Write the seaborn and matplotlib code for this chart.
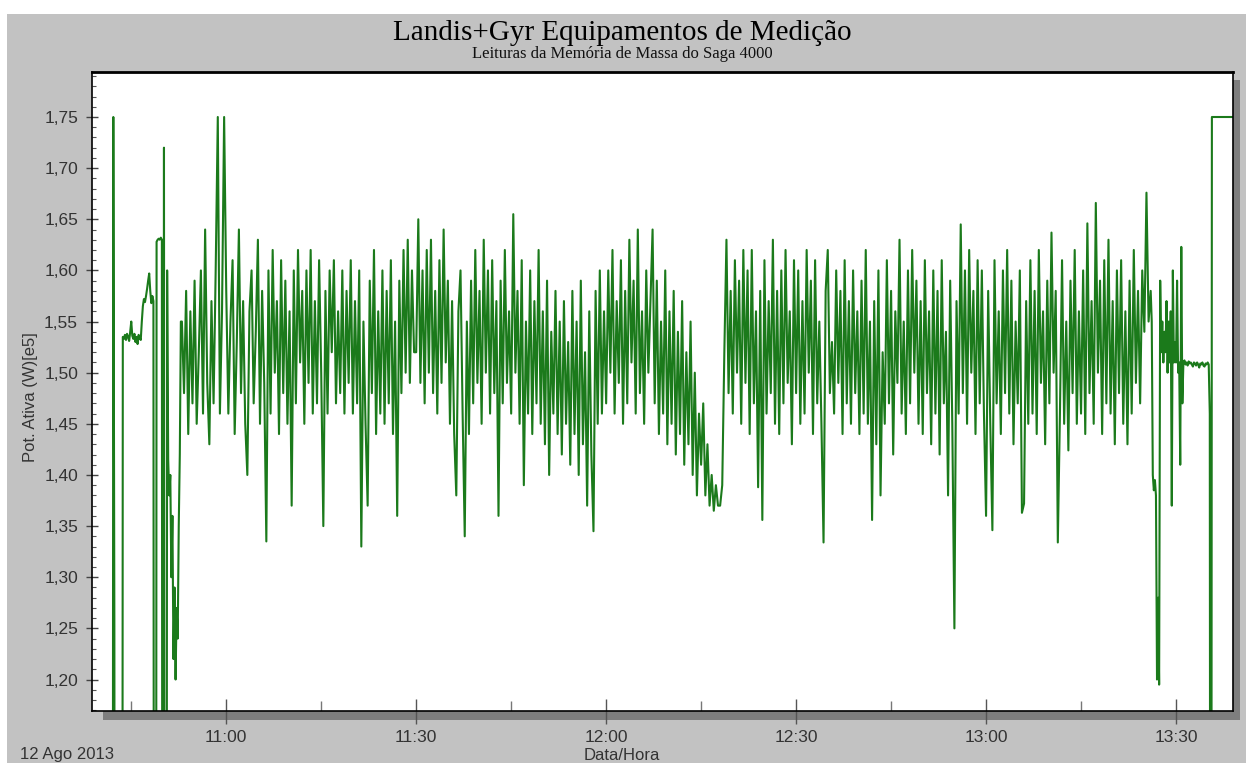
import pandas as pd
import numpy as np
import matplotlib
matplotlib.use('Agg')
import matplotlib.pyplot as plt
import matplotlib.dates as mdates
from matplotlib.patches import Rectangle
from matplotlib.ticker import MultipleLocator, FuncFormatter
import seaborn as sns

# leituras de 10 s no arranque do medidor (a partir de 10:42:00)
startup_vals = [
    0.0, 1.75, 1.25, 0.0, 0.0, 0.0, 0.0, 0.0, 0.0, 0.0,
    1.535, 1.533, 1.537, 1.532, 1.538, 1.535, 1.531, 1.540, 1.550, 1.536,
    1.533, 1.538, 1.530, 1.535, 1.528, 1.537, 1.534, 1.532, 1.550, 1.565,
    1.572, 1.569, 1.575, 1.582, 1.590, 1.597, 1.580, 1.568, 1.575, 1.570,
    0.0, 0.0, 1.628, 1.630, 1.631, 1.630, 1.632, 1.630, 0.0, 1.72,
    0.0, 0.0, 1.60, 1.415, 1.38, 1.40, 1.30, 1.36, 1.22, 1.29,
    1.20, 1.27, 1.24, 1.35, 1.42, 1.55,
]

# leituras de 20 s, regime normal
band_1053 = [
    1.55, 1.48, 1.58, 1.44, 1.56, 1.47, 1.59, 1.45, 1.52, 1.60,
    1.46, 1.64, 1.49, 1.43, 1.57, 1.47, 1.60, 1.75, 1.46, 1.56, 1.75,
]
band_1100 = [
    1.58, 1.46, 1.55, 1.61, 1.44, 1.53, 1.64, 1.48, 1.57,
    1.45, 1.40, 1.56, 1.60, 1.47, 1.54, 1.63, 1.45, 1.58,
    1.49, 1.335, 1.60, 1.46, 1.62, 1.50, 1.57, 1.44, 1.61,
    1.48, 1.59, 1.45, 1.56, 1.37, 1.60, 1.47, 1.62, 1.51,
    1.58, 1.45, 1.60, 1.49, 1.62, 1.46, 1.57, 1.47, 1.61,
    1.50, 1.35, 1.58, 1.46, 1.60, 1.52, 1.61, 1.47, 1.56,
    1.48, 1.60, 1.46, 1.58, 1.49, 1.61, 1.46, 1.57, 1.47,
    1.60, 1.33, 1.55, 1.45, 1.37, 1.59, 1.48, 1.62, 1.44,
    1.56, 1.46, 1.60, 1.45, 1.58, 1.47, 1.61, 1.44, 1.55,
    1.36, 1.59, 1.48, 1.62, 1.50, 1.63, 1.49, 1.60, 1.52,
]
band_1130 = [
    1.52, 1.65, 1.49, 1.60, 1.47, 1.62, 1.50, 1.63, 1.48,
    1.58, 1.46, 1.61, 1.49, 1.64, 1.51, 1.59, 1.45, 1.57,
    1.44, 1.38, 1.56, 1.60, 1.46, 1.34, 1.55, 1.44, 1.59,
    1.47, 1.62, 1.49, 1.58, 1.45, 1.63, 1.50, 1.60, 1.46,
    1.61, 1.48, 1.57, 1.36, 1.59, 1.47, 1.62, 1.49, 1.56,
    1.46, 1.655, 1.50, 1.58, 1.45, 1.61, 1.39, 1.55, 1.46,
    1.60, 1.44, 1.57, 1.47, 1.62, 1.45, 1.56, 1.43, 1.59,
    1.40, 1.54, 1.46, 1.58, 1.44, 1.55, 1.42, 1.57, 1.45,
    1.53, 1.41, 1.58, 1.44, 1.55, 1.40, 1.59, 1.43, 1.52,
    1.37, 1.56, 1.42, 1.345, 1.58, 1.45, 1.60, 1.46, 1.56,
]
band_1200 = [
    1.47, 1.60, 1.50, 1.62, 1.46, 1.57, 1.49, 1.61, 1.45,
    1.58, 1.47, 1.63, 1.51, 1.59, 1.46, 1.64, 1.48, 1.56,
    1.45, 1.60, 1.50, 1.57, 1.64, 1.47, 1.59, 1.44, 1.55,
    1.46, 1.60, 1.43, 1.56, 1.45, 1.58, 1.42, 1.54, 1.44,
    1.57, 1.41, 1.52, 1.43, 1.55, 1.40, 1.50, 1.38, 1.46,
    1.41, 1.47, 1.38, 1.43, 1.37, 1.40, 1.365, 1.39, 1.37,
    1.37, 1.39, 1.52, 1.63, 1.48, 1.58, 1.46, 1.61, 1.50,
    1.59, 1.45, 1.62, 1.49, 1.60, 1.44, 1.62, 1.47, 1.56,
    1.388, 1.58, 1.356, 1.61, 1.46, 1.57, 1.48, 1.63, 1.45,
    1.58, 1.44, 1.60, 1.47, 1.62, 1.49, 1.56, 1.43, 1.61,
]
band_1230 = [
    1.48, 1.60, 1.45, 1.57, 1.46, 1.62, 1.50, 1.59, 1.44,
    1.61, 1.47, 1.55, 1.45, 1.334, 1.58, 1.62, 1.48, 1.53,
    1.46, 1.60, 1.49, 1.58, 1.44, 1.61, 1.47, 1.57, 1.45,
    1.60, 1.48, 1.56, 1.44, 1.59, 1.46, 1.62, 1.45, 1.55,
    1.356, 1.57, 1.43, 1.60, 1.38, 1.52, 1.45, 1.61, 1.47,
    1.58, 1.42, 1.56, 1.49, 1.63, 1.46, 1.55, 1.44, 1.60,
    1.47, 1.62, 1.50, 1.59, 1.45, 1.57, 1.44, 1.61, 1.48,
    1.56, 1.43, 1.60, 1.46, 1.58, 1.42, 1.61, 1.47, 1.54,
    1.38, 1.59, 1.45, 1.25, 1.57, 1.46, 1.645, 1.48, 1.60,
    1.45, 1.62, 1.50, 1.58, 1.44, 1.61, 1.47, 1.60, 1.46,
]
band_1300 = [
    1.36, 1.58, 1.45, 1.346, 1.61, 1.47, 1.56, 1.44, 1.60,
    1.48, 1.62, 1.46, 1.59, 1.43, 1.55, 1.47, 1.60, 1.363,
    1.372, 1.57, 1.45, 1.61, 1.46, 1.58, 1.44, 1.62, 1.49,
    1.56, 1.43, 1.59, 1.47, 1.637, 1.50, 1.58, 1.334, 1.46,
    1.61, 1.45, 1.55, 1.424, 1.59, 1.48, 1.62, 1.45, 1.56,
    1.46, 1.60, 1.44, 1.646, 1.48, 1.57, 1.45, 1.666, 1.50,
    1.59, 1.44, 1.61, 1.47, 1.63, 1.46, 1.57, 1.43, 1.60,
    1.48, 1.61, 1.45, 1.56, 1.43, 1.59, 1.46, 1.62, 1.49,
    1.58, 1.47, 1.60, 1.54, 1.676, 1.55,
]

# leituras de 10 s no fim (a partir de 13:26:00)
tail_vals = [
    1.58, 1.55, 1.40, 1.385, 1.395, 1.38, 1.20, 1.28, 1.195, 1.59,
    1.52, 1.55, 1.51, 1.54, 1.52, 1.57, 1.50, 1.55, 1.51, 1.56,
    1.37, 1.60, 1.51, 1.53, 1.51, 1.59, 1.50, 1.51, 1.41, 1.623,
    1.47, 1.51, 1.512, 1.508, 1.51, 1.507, 1.511, 1.509, 1.51, 1.508,
    1.506, 1.51, 1.509, 1.507, 1.51, 1.508, 1.505, 1.509, 1.508, 1.51,
    1.507, 1.506, 1.509, 1.508, 1.51, 1.508, 1.46, 0.0, 1.75, 1.75,
    1.75, 1.75, 1.75, 1.75, 1.75, 1.75, 1.75, 1.75, 1.75, 1.75,
    1.75, 1.75, 1.75, 1.75, 1.75, 1.75, 1.75, 1.75, 1.75, 1.75, 1.75,
]

y_ticks = [1.20, 1.25, 1.30, 1.35, 1.40, 1.45, 1.50, 1.55, 1.60, 1.65, 1.70, 1.75]

segments = [
    ('2013-08-12 10:42:00', 10, startup_vals),
    ('2013-08-12 10:53:00', 20, band_1053),
    ('2013-08-12 11:00:00', 20, band_1100),
    ('2013-08-12 11:30:00', 20, band_1130),
    ('2013-08-12 12:00:00', 20, band_1200),
    ('2013-08-12 12:30:00', 20, band_1230),
    ('2013-08-12 13:00:00', 20, band_1300),
    ('2013-08-12 13:26:00', 10, tail_vals),
]

frames = []
for start, step, vals in segments:
    horas = pd.date_range(start, periods=len(vals), freq=f'{step}s')
    frames.append(pd.DataFrame({'hora': horas, 'pot': vals}))
df = pd.concat(frames, ignore_index=True)

sns.set_theme(style='white')
plt.rcParams['font.family'] = ['Liberation Sans', 'DejaVu Sans']

W, H = 1246, 763
fig = plt.figure(figsize=(W / 100, H / 100), dpi=100, facecolor='white')

# fundo cinza e sombra do painel
fig.add_artist(Rectangle((7 / W, 0), 1, 1 - 14 / H, transform=fig.transFigure,
                         facecolor='#c2c2c2', edgecolor='none', zorder=-3))
fig.add_artist(Rectangle((103 / W, 1 - 720 / H), (1240 - 103) / W, (720 - 80) / H,
                         transform=fig.transFigure, facecolor='#7e7e7e',
                         edgecolor='none', zorder=-2))

ax = fig.add_axes([92 / W, 1 - 710.5 / H, (1233 - 92) / W, (710.5 - 72) / H])
ax.set_facecolor('white')

sns.lineplot(data=df, x='hora', y='pot', ax=ax, color='#1b7a1b', linewidth=1.5,
             estimator=None, sort=False)

ax.set_xlim(pd.Timestamp('2013-08-12 10:38:48'), pd.Timestamp('2013-08-12 13:39:00'))
ax.set_ylim(1.1697, 1.794)

ax.xaxis.set_major_locator(mdates.MinuteLocator(byminute=[0, 30]))
ax.xaxis.set_minor_locator(mdates.MinuteLocator(byminute=[15, 45]))
ax.xaxis.set_major_formatter(mdates.DateFormatter('%H:%M'))
ax.set_yticks(y_ticks)
ax.yaxis.set_minor_locator(MultipleLocator(0.01))
ax.yaxis.set_major_formatter(FuncFormatter(lambda v, p: f'{v:.2f}'.replace('.', ',')))

ax.tick_params(axis='x', which='major', direction='inout', length=18, width=1,
               color='#555555', labelsize=12.5, labelcolor='#333333', pad=5)
ax.tick_params(axis='x', which='minor', direction='in', length=7, width=1, color='#777777')
ax.tick_params(axis='y', which='major', direction='inout', length=8, width=1,
               color='#444444', labelsize=12.5, labelcolor='#333333', pad=6, left=True)
ax.tick_params(axis='y', which='minor', direction='in', length=3, width=0.8,
               color='#555555', left=True)
ax.tick_params(axis='x', which='both', bottom=True)

ax.set_xlabel('')
ax.set_ylabel('')
for side, s in ax.spines.items():
    s.set_visible(True)
    s.set_color('black')
    s.set_linewidth(1.2)
ax.spines['top'].set_linewidth(2)

fig.text(622 / W, 1 - 33 / H, 'Landis+Gyr Equipamentos de Medição', ha='center', va='center',
         family='Liberation Serif', fontsize=21, color='black')
fig.text(622 / W, 1 - 54 / H, 'Leituras da Memória de Massa do Saga 4000', ha='center',
         va='center', family='Liberation Serif', fontsize=12, color='#111111')
fig.text(30 / W, 1 - 397 / H, 'Pot. Ativa (W)[e5]', rotation=90, ha='center', va='center',
         fontsize=12, color='#333333')
fig.text(622 / W, 1 - 755 / H, 'Data/Hora', ha='center', va='center', fontsize=12,
         color='#333333')
fig.text(20 / W, 1 - 755 / H, '12 Ago 2013', ha='left', va='center', fontsize=12,
         color='#333333')

fig.savefig('out.png', dpi=100, facecolor=fig.get_facecolor())
